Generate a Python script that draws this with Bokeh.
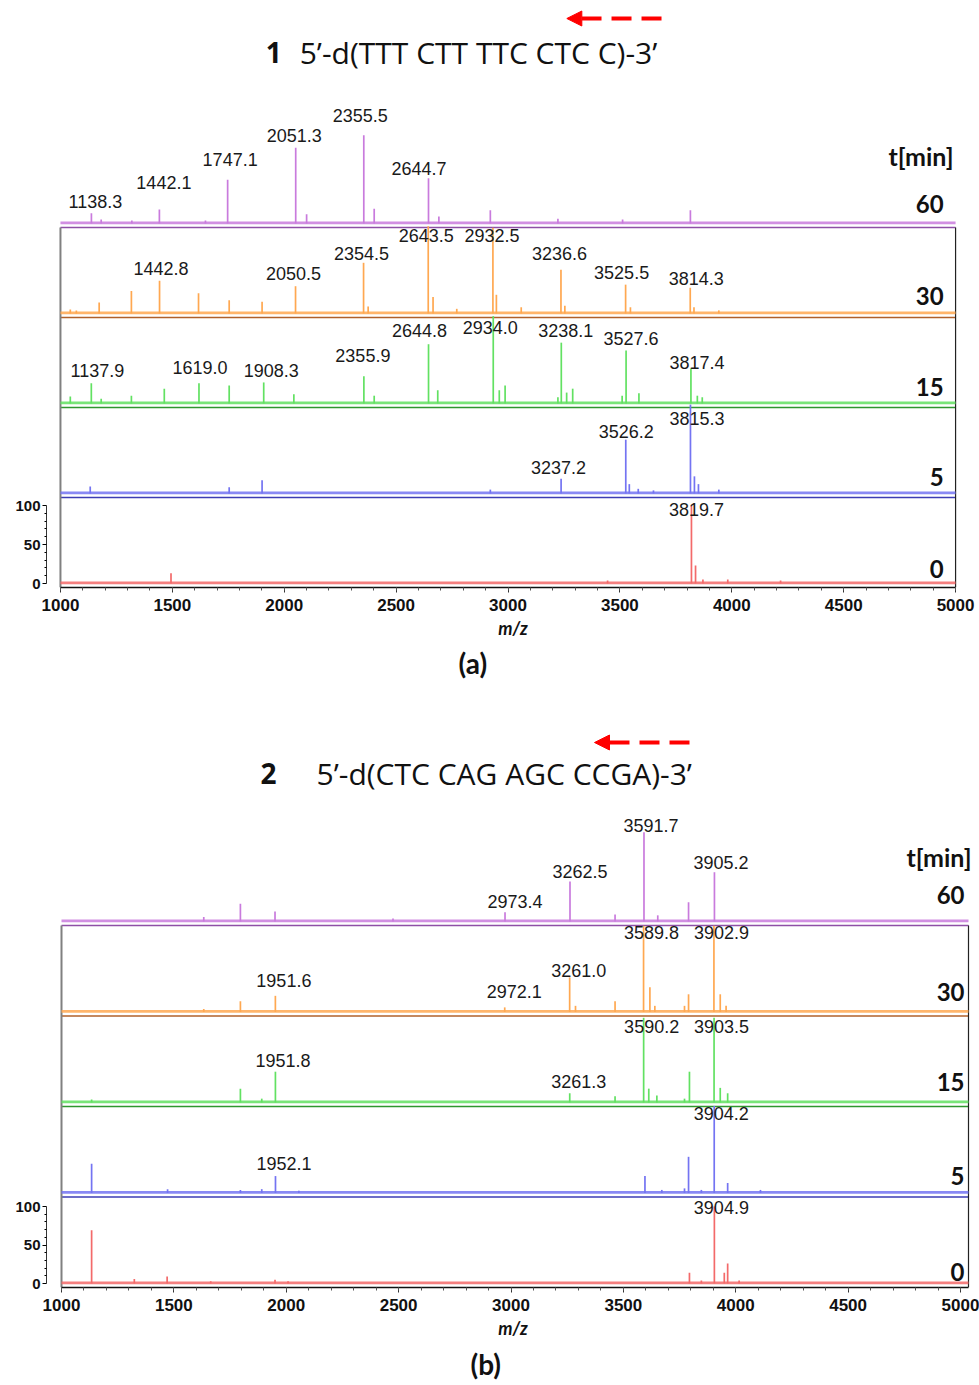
from bokeh.plotting import figure
from bokeh.models import (Range1d, ColumnDataSource, Label, Arrow, NormalHead, Title,
                          FixedTicker, SingleIntervalTicker)
from bokeh.layouts import column
from bokeh.core.properties import value
from bokeh.embed import file_html
from bokeh.resources import INLINE

# ---------------- data: time points (min) ----------------
TIMES = [60, 30, 15, 5, 0]
TICK_LABELS_Y = [0, 50, 100]

# ---------------- panel (a): 5'-d(TTT CTT TTC CTC C)-3' ----------------
A_NUM = "1"
A_SEQ = "5\u2019-d(TTT CTT TTC CTC C)-3\u2019"

A60_MZ = [1138.3, 1182, 1319, 1442.1, 1648, 1747.1, 2051.3, 2100, 2355.5, 2402, 2644.7, 2691, 2921, 3223, 3512, 3815]
A60_INT = [13, 5, 4, 18, 4, 56, 97, 12, 113, 19, 58, 9, 17, 6, 5, 17]
A60_LAB = [1138.3, 1442.1, 1747.1, 2051.3, 2355.5, 2644.7]

A30_MZ = [1044, 1071, 1173, 1317, 1442.8, 1617, 1754, 1901, 2050.5, 2354.5, 2375, 2643.5, 2665, 2771,
          2932.5, 2948, 3059, 3236.6, 3254, 3525.5, 3547, 3814.3, 3831, 3942]
A30_INT = [5, 4, 14, 29, 42, 26, 17, 15, 35, 65, 9, 112, 21, 6, 110, 24, 8, 56, 10, 37, 8, 33, 8, 4]
A30_LAB = [1442.8, 2050.5, 2354.5, 2643.5, 2932.5, 3236.6, 3525.5, 3814.3]

A15_MZ = [1044, 1137.9, 1182, 1317, 1464, 1619.0, 1754, 1908.3, 2043, 2355.9, 2402, 2644.8, 2686, 2934.0,
          2961, 2987, 3223, 3238.1, 3262, 3289, 3510, 3527.6, 3585, 3817.4, 3846, 3868]
A15_INT = [9, 26, 6, 10, 19, 26, 23, 27, 12, 35, 10, 76, 17, 112, 17, 23, 8, 78, 14, 19, 10, 68, 13, 45, 10, 8]
A15_LAB = [1137.9, 1619.0, 1908.3, 2355.9, 2644.8, 2934.0, 3238.1, 3527.6, 3817.4]

A5_MZ = [1133, 1754, 1901, 2921, 3237.2, 3526.2, 3542, 3582, 3650, 3815.3, 3833, 3851, 3942]
A5_INT = [9, 8, 17, 5, 19, 69, 12, 6, 4, 114, 22, 12, 5]
A5_LAB = [3237.2, 3526.2, 3815.3]

A0_MZ = [1494, 3445, 3819.7, 3838, 3871, 3982, 4218]
A0_INT = [13, 4, 100, 23, 5, 5, 4]
A0_LAB = [3819.7]

# ---------------- panel (b): 5'-d(CTC CAG AGC CCGA)-3' ----------------
B_NUM = "2"
B_SEQ = "5\u2019-d(CTC CAG AGC CCGA)-3\u2019"

B60_MZ = [1633, 1796, 1950, 2475, 2973.4, 3262.5, 3463, 3591.7, 3653, 3790, 3905.2]
B60_INT = [6, 23, 13, 4, 12, 52, 9, 116, 8, 25, 64]
B60_LAB = [2973.4, 3262.5, 3591.7, 3905.2]

B30_MZ = [1633, 1796, 1951.6, 2972.1, 3261.0, 3287, 3463, 3589.8, 3618, 3640, 3772, 3790, 3902.9, 3931, 3957]
B30_INT = [4, 14, 21, 6, 45, 8, 14, 112, 32, 8, 8, 23, 112, 23, 8]
B30_LAB = [1951.6, 2972.1, 3261.0, 3589.8, 3902.9]

B15_MZ = [1134, 1796, 1891, 1951.8, 3261.3, 3463, 3590.2, 3613, 3649, 3772, 3794, 3903.5, 3931, 3964]
B15_INT = [4, 18, 5, 40, 12, 8, 110, 18, 9, 5, 40, 110, 19, 12]
B15_LAB = [1951.8, 3261.3, 3590.2, 3903.5]

B5_MZ = [1134, 1472, 1796, 1891, 1952.1, 2056, 3596, 3671, 3772, 3790, 3847, 3904.2, 3964, 4110]
B5_INT = [38, 5, 4, 5, 22, 3, 22, 4, 6, 47, 4, 113, 13, 4]
B5_LAB = [1952.1, 3904.2]

B0_MZ = [1134, 1324, 1470, 1664, 1950, 2008, 3794, 3847, 3904.9, 3949, 3964, 4015]
B0_INT = [69, 6, 9, 3, 5, 3, 14, 4, 100, 14, 26, 4]
B0_LAB = [3904.9]

# ---------------- layout / style (not data) ----------------
TRACE = {60: "#C97BDD", 30: "#FFA851", 15: "#62E162", 5: "#7474F2", 0: "#F36A6A"}
SEP = {60: "#8E4FA6", 30: "#B0602A", 15: "#2E962E", 5: "#3C3CB4"}

# label placement: (height above strip baseline in intensity units, x offset in px)
A_LAB_POS = {
    60: [(28, 4), (52, 4.5), (82, 2.5), (113, -1.5), (138.5, -3.5), (71, -9.5)],
    30: [(58, 1.5), (51, -2), (77, -2), (100, -2), (100, -1), (77, -1.5), (53, -4), (45, 6)],
    15: [(42, 6), (46.5, 1), (42, 7.5), (61.5, -1), (93.6, -9), (97.4, -3), (93.6, 4.5), (83.3, 5), (52.6, 6)],
    5: [(33.7, -2.5), (80, 0.5), (95.8, 6.5)],
    0: [(95, 5)],
}
B_LAB_POS = {
    60: [(26, 10), (65, 10), (124.7, 7), (76.6, 6.5)],
    30: [(40.6, 8.5), (26, 9.5), (54.5, 9), (102.6, 8), (102.6, 7.5)],
    15: [(54.5, 7.5), (27.7, 9), (99, 8), (99, 7.5)],
    5: [(37.7, 8.5), (102.6, 7)],
    0: [(98.3, 7)],
}

GEOM_A = dict(top=0, height=684, frame_left=43, frame_right=979, frame_top=0, frame_bottom=587,
              box_left=57, box_right=953, mz_left=1000, px_5000=955, sy=0.78, base0=583, gap_px=90,
              time_right=943, time_dy=[25.6, 21.8, 20.9, 20.9, 19.2], tmin=(953, 155),
              num=(263, 52), seq=(297, 52), arrow=(660, 565, 18), letter="(a)", letter_left=455,
              letter_standoff=4)
GEOM_B = dict(top=684, height=701, frame_left=46, frame_right=979, frame_top=684, frame_bottom=1287,
              box_left=61, box_right=968, mz_left=1000, px_5000=960, sy=0.77, base0=1283, gap_px=90.5,
              time_right=964, time_dy=[33.8, 26, 26, 22, 14.7], tmin=(971, 856),
              num=(260, 773), seq=(316, 773), arrow=(689, 594, 742), letter="(b)", letter_left=470,
              letter_standoff=7)


def build_panel(g, peaks, labpos, num, seq):
    fl, fr, ft, fb = g["frame_left"], g["frame_right"], g["frame_top"], g["frame_bottom"]
    sx = (g["px_5000"] - g["box_left"]) / (5000 - g["mz_left"])
    sy = g["sy"]
    x0 = g["mz_left"] - (g["box_left"] - fl) / sx
    x1 = g["mz_left"] + (fr - g["box_left"]) / sx
    y0 = -(fb - g["base0"]) / sy
    y1 = y0 + (fb - ft) / sy
    mz_right = max(5000.0, g["mz_left"] + (g["box_right"] - g["box_left"]) / sx)

    def px2x(px):
        return x0 + (px - fl) / sx

    def px2y(py):
        return y1 - (py - ft) / sy

    gap = g["gap_px"] / sy
    sep_d = (fb - g["base0"]) / sy

    p = figure(width=979, height=g["height"], x_range=Range1d(x0, x1), y_range=Range1d(y0, y1),
               output_backend="svg", toolbar_location=None,
               min_border_left=fl, min_border_right=979 - fr,
               min_border_top=ft - g["top"], min_border_bottom=g["top"] + g["height"] - fb)
    p.outline_line_color = None
    p.xgrid.visible = False
    p.ygrid.visible = False
    p.background_fill_color = "white"
    p.border_fill_color = "white"

    order = [0, 5, 15, 30, 60]
    offs = {t: i * gap for i, t in enumerate(order)}

    # separators (strip axes) and box
    sx0, sy0, sx1, sy1, scol = [], [], [], [], []
    for t in [60, 30, 15, 5]:
        sx0.append(g["mz_left"]); sx1.append(mz_right)
        sy0.append(offs[t] - sep_d); sy1.append(offs[t] - sep_d); scol.append(SEP[t])
    p.segment(x0=sx0, y0=sy0, x1=sx1, y1=sy1, line_color=scol, line_width=1.6)
    p.segment(x0=[g["mz_left"]], y0=[-sep_d], x1=[g["mz_left"]], y1=[offs[60] - sep_d],
              line_color="#808080", line_width=2)
    p.segment(x0=[mz_right], y0=[-sep_d], x1=[mz_right], y1=[offs[60] - sep_d],
              line_color="#222222", line_width=1.2)

    # noise floors
    for t in order:
        p.segment(x0=[g["mz_left"]], y0=[offs[t] + 0.8], x1=[mz_right], y1=[offs[t] + 0.8],
                  line_color=TRACE[t], line_width=2.6, line_alpha=0.85)

    # peaks
    xs, ys0, ys1, cols = [], [], [], []
    for t in order:
        mz, inten, _ = peaks[t]
        for m, h in zip(mz, inten):
            xs.append(m); ys0.append(offs[t]); ys1.append(offs[t] + h); cols.append(TRACE[t])
    src = ColumnDataSource(dict(x=xs, y0=ys0, y1=ys1, c=cols))
    p.segment(x0="x", y0="y0", x1="x", y1="y1", line_color="c", line_width=1.7, source=src)

    # peak labels
    lx, ly, lt, ldx = [], [], [], []
    for t in order:
        _, _, labs = peaks[t]
        for m, (dy, dx) in zip(labs, labpos[t]):
            lx.append(m); ly.append(offs[t] + dy); lt.append(f"{m:.1f}"); ldx.append(dx)
    lsrc = ColumnDataSource(dict(x=lx, y=ly, t=lt, dx=ldx))
    p.text(x="x", y="y", text="t", x_offset="dx", source=lsrc, text_align="center",
           text_baseline="middle", text_font=value("Liberation Sans"), text_font_size="18px",
           text_color="#1a1a1a")

    # time labels
    for t, dy in zip(TIMES, g["time_dy"]):
        p.add_layout(Label(x=px2x(g["time_right"]), y=offs[t] + dy, text=str(t), text_align="right",
                           text_baseline="middle", text_font="Lato", text_font_style="bold",
                           text_font_size="24px", text_color="#111111"))
    p.add_layout(Label(x=px2x(g["tmin"][0]), y=px2y(g["tmin"][1]), text="t[min]", text_align="right",
                       text_baseline="middle", text_font="Lato", text_font_style="bold",
                       text_font_size="25px", text_color="#111111"))

    # title: compound number + sequence
    p.add_layout(Label(x=px2x(g["num"][0]), y=px2y(g["num"][1]), text=num, text_align="left",
                       text_baseline="middle", text_font="Open Sans", text_font_style="bold",
                       text_font_size="28px", text_color="#111111"))
    p.add_layout(Label(x=px2x(g["seq"][0]), y=px2y(g["seq"][1]), text=seq, text_align="left",
                       text_baseline="middle", text_font="Open Sans", text_font_size="30px",
                       text_color="#111111"))
    ax0, ax1, ay = g["arrow"]
    p.add_layout(Arrow(x_start=px2x(ax0), y_start=px2y(ay), x_end=px2x(ax1), y_end=px2y(ay),
                       line_color="#FF0000", line_width=4, line_dash="20 10",
                       end=NormalHead(size=15, fill_color="#FF0000", line_color="#FF0000")))

    # axes
    xa = p.xaxis[0]
    xa.ticker = SingleIntervalTicker(interval=500, num_minor_ticks=5)
    xa.bounds = (g["mz_left"], mz_right)
    xa.axis_line_color = "#111111"
    xa.axis_line_width = 1.5
    xa.major_tick_in = 0
    xa.major_tick_out = 5
    xa.minor_tick_in = 0
    xa.minor_tick_out = 3
    xa.major_tick_line_color = "#333333"
    xa.minor_tick_line_color = "#555555"
    xa.major_label_text_font = "Liberation Sans"
    xa.major_label_text_font_style = "bold"
    xa.major_label_text_font_size = "17px"
    xa.major_label_text_color = "#111111"
    xa.major_label_standoff = 6
    xa.axis_label = "m/z"
    xa.axis_label_text_font = "Lato"
    xa.axis_label_text_font_style = "bold italic"
    xa.axis_label_text_font_size = "18px"
    xa.axis_label_text_color = "#111111"
    xa.axis_label_standoff = 3

    ya = p.yaxis[0]
    ya.ticker = FixedTicker(ticks=TICK_LABELS_Y, minor_ticks=[10, 20, 30, 40, 60, 70, 80, 90])
    ya.bounds = (0, 100)
    ya.axis_line_color = "#333333"
    ya.major_tick_in = 0
    ya.major_tick_out = 4
    ya.minor_tick_in = 0
    ya.minor_tick_out = 2
    ya.major_label_text_font = "Liberation Sans"
    ya.major_label_text_font_style = "bold"
    ya.major_label_text_font_size = "15px"
    ya.major_label_text_color = "#111111"
    ya.major_label_standoff = 2

    p.add_layout(Title(text=g["letter"], align="left", offset=g["letter_left"] - fl,
                       text_font="Lato", text_font_style="bold", text_font_size="28px",
                       text_color="#111111", standoff=g["letter_standoff"]), "below")
    return p


peaks_a = {60: (A60_MZ, A60_INT, A60_LAB), 30: (A30_MZ, A30_INT, A30_LAB), 15: (A15_MZ, A15_INT, A15_LAB),
           5: (A5_MZ, A5_INT, A5_LAB), 0: (A0_MZ, A0_INT, A0_LAB)}
peaks_b = {60: (B60_MZ, B60_INT, B60_LAB), 30: (B30_MZ, B30_INT, B30_LAB), 15: (B15_MZ, B15_INT, B15_LAB),
           5: (B5_MZ, B5_INT, B5_LAB), 0: (B0_MZ, B0_INT, B0_LAB)}

pa = build_panel(GEOM_A, peaks_a, A_LAB_POS, A_NUM, A_SEQ)
pb = build_panel(GEOM_B, peaks_b, B_LAB_POS, B_NUM, B_SEQ)

layout = column(pa, pb)
open("out.html", "w").write(file_html(layout, INLINE))
